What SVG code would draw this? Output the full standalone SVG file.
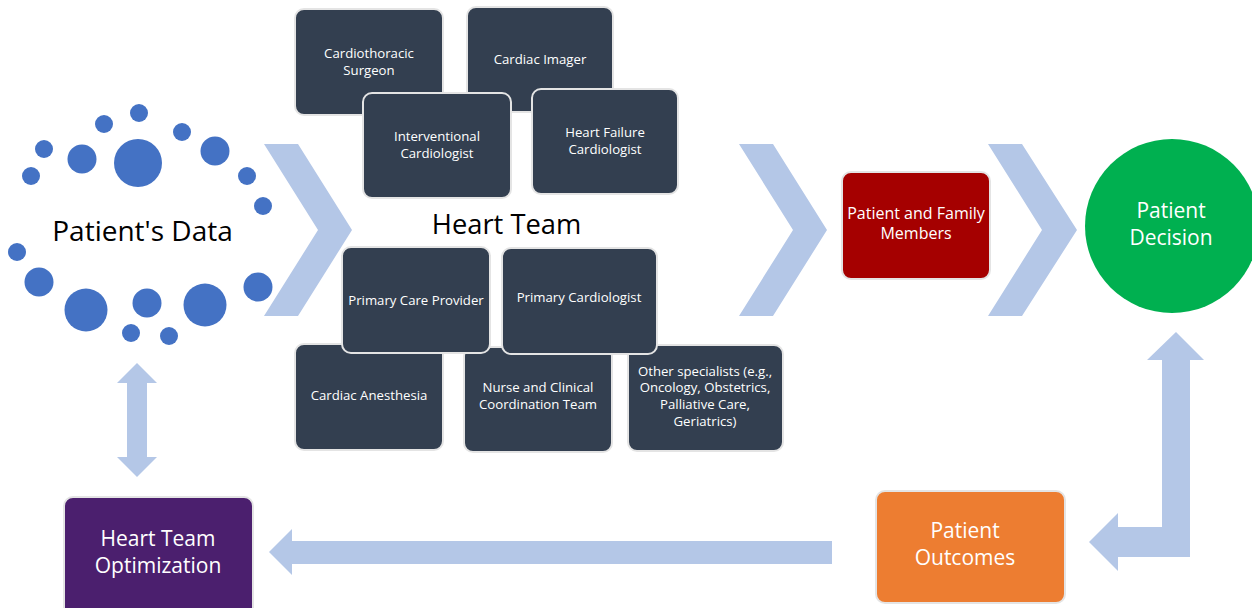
<svg xmlns="http://www.w3.org/2000/svg" width="1252" height="608" viewBox="0 0 1252 608">
  <style>
    text { font-family: "Open Sans", "Noto Sans", "Liberation Sans", sans-serif; text-anchor: middle; }
    .flow { fill: #B4C7E7; }
    .dot { fill: #4472C4; }
    .member rect { fill: #333F50; stroke: #E4E4E4; stroke-width: 2; }
    .member text { fill: #FFFFFF; font-size: 13.2px; }
    .stage rect { stroke: #E4E4E4; stroke-width: 2; }
    .stage text, .decision text { fill: #FFFFFF; font-size: 21px; }
    .title { fill: #000000; }
  </style>

  <!-- flow arrows and chevrons -->
  <g id="connectors">
    <polygon class="flow" points="264,144 298,144 352,230 298,316 264,316 318,230"/>
    <polygon class="flow" points="739,144 773,144 827,230 773,316 739,316 793,230"/>
    <polygon class="flow" points="988,144 1022,144 1077,230 1022,316 988,316 1042,230"/>
    <!-- two-way arrow between data and optimization -->
    <polygon class="flow" points="137,363 157,383 147,383 147,457 157,457 137,477 117,457 127,457 127,383 117,383"/>
    <!-- outcomes back to optimization -->
    <polygon class="flow" points="269,552 292,529 292,541 832,541 832,564 292,564 292,575"/>
    <!-- bent arrow between decision and outcomes -->
    <polygon class="flow" points="1176,332 1204,360 1190,360 1190,557 1118,557 1118,571 1089,542 1118,513 1118,527 1162,527 1162,360 1147,360"/>
  </g>

  <!-- patient data cloud -->
  <g id="patient-data">
    <circle class="dot" cx="139" cy="113" r="9"/>
    <circle class="dot" cx="104" cy="124" r="9"/>
    <circle class="dot" cx="182" cy="132" r="9"/>
    <circle class="dot" cx="44" cy="149" r="9"/>
    <circle class="dot" cx="82" cy="159" r="14.5"/>
    <circle class="dot" cx="138" cy="163" r="24"/>
    <circle class="dot" cx="215" cy="151" r="14.5"/>
    <circle class="dot" cx="31" cy="176" r="9"/>
    <circle class="dot" cx="247" cy="176" r="9"/>
    <circle class="dot" cx="263" cy="206" r="9"/>
    <circle class="dot" cx="17" cy="252" r="9"/>
    <circle class="dot" cx="39" cy="282" r="14.5"/>
    <circle class="dot" cx="86" cy="310" r="21.5"/>
    <circle class="dot" cx="147" cy="303" r="14.5"/>
    <circle class="dot" cx="205" cy="305" r="21.5"/>
    <circle class="dot" cx="258" cy="287" r="14.5"/>
    <circle class="dot" cx="131" cy="333" r="9"/>
    <circle class="dot" cx="169" cy="336" r="9"/>
    <text class="title" x="142.5" y="241" font-size="28">Patient's Data</text>
  </g>

  <!-- heart team members -->
  <g id="cardiothoracic-surgeon" class="member">
    <rect x="295" y="9" width="148" height="106" rx="9"/>
    <text x="369" y="58">Cardiothoracic</text>
    <text x="369" y="75">Surgeon</text>
  </g>
  <g id="cardiac-imager" class="member">
    <rect x="467" y="7" width="146" height="105" rx="9"/>
    <text x="540" y="64">Cardiac Imager</text>
  </g>
  <g id="interventional-cardiologist" class="member">
    <rect x="363" y="93" width="148" height="105" rx="9"/>
    <text x="437" y="141">Interventional</text>
    <text x="437" y="158">Cardiologist</text>
  </g>
  <g id="heart-failure-cardiologist" class="member">
    <rect x="532" y="89" width="146" height="105" rx="9"/>
    <text x="605" y="137">Heart Failure</text>
    <text x="605" y="154">Cardiologist</text>
  </g>

  <g id="heart-team-label">
    <text class="title" x="506.5" y="234" font-size="27.3">Heart Team</text>
  </g>

  <g id="cardiac-anesthesia" class="member">
    <rect x="295" y="344" width="148" height="106" rx="9"/>
    <text x="369" y="400">Cardiac Anesthesia</text>
  </g>
  <g id="nurse-coordination" class="member">
    <rect x="464" y="347" width="148" height="105" rx="9"/>
    <text x="538" y="392">Nurse and Clinical</text>
    <text x="538" y="409">Coordination Team</text>
  </g>
  <g id="other-specialists" class="member">
    <rect x="628" y="345" width="155" height="106" rx="9"/>
    <text x="705" y="376">Other specialists (e.g.,</text>
    <text x="705" y="392">Oncology, Obstetrics,</text>
    <text x="705" y="409">Palliative Care,</text>
    <text x="705" y="426">Geriatrics)</text>
  </g>
  <g id="primary-care-provider" class="member">
    <rect x="342" y="247" width="148" height="106" rx="9"/>
    <text x="416" y="305">Primary Care Provider</text>
  </g>
  <g id="primary-cardiologist" class="member">
    <rect x="502" y="248" width="155" height="106" rx="9"/>
    <text x="579" y="302">Primary Cardiologist</text>
  </g>

  <!-- patient side -->
  <g id="patient-family" class="stage">
    <rect x="842" y="172" width="148" height="107" rx="9" fill="#A50000"/>
    <text x="916" y="219" font-size="16" style="font-size:16px">Patient and Family</text>
    <text x="916" y="239" style="font-size:16px">Members</text>
  </g>
  <g id="patient-decision" class="decision">
    <circle cx="1172" cy="226" r="87" fill="#00B050"/>
    <text x="1171" y="218">Patient</text>
    <text x="1171" y="245">Decision</text>
  </g>
  <g id="patient-outcomes" class="stage">
    <rect x="876" y="491" width="189" height="112" rx="9" fill="#ED7D31"/>
    <text x="965" y="538">Patient</text>
    <text x="965" y="565">Outcomes</text>
  </g>
  <g id="heart-team-optimization" class="stage">
    <rect x="64" y="497" width="189" height="120" rx="9" fill="#4B1F6E"/>
    <text x="158" y="546">Heart Team</text>
    <text x="158" y="573">Optimization</text>
  </g>
</svg>
